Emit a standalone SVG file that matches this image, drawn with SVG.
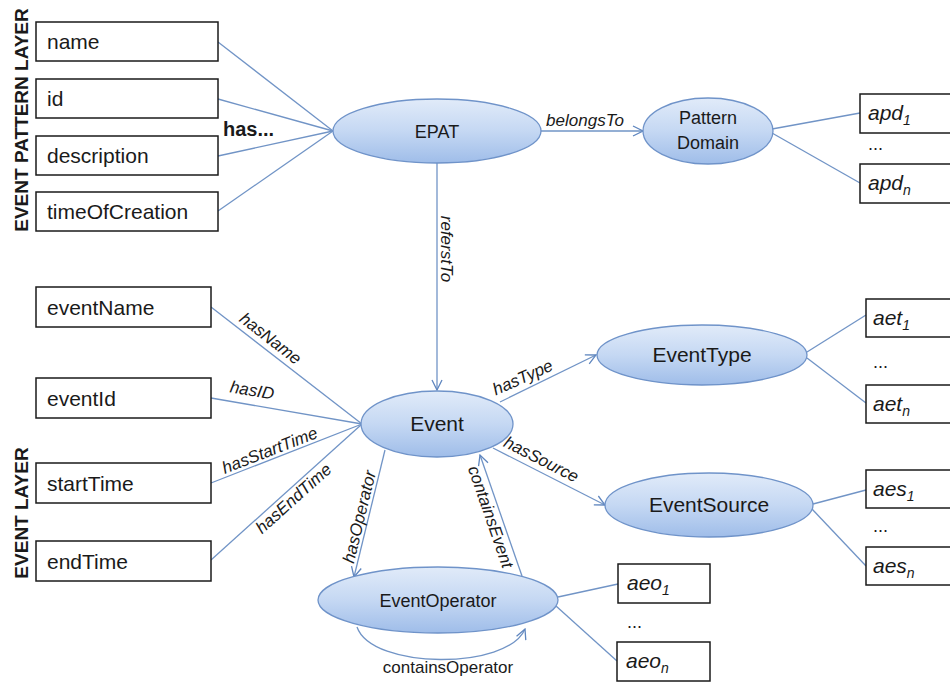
<svg xmlns="http://www.w3.org/2000/svg" width="950" height="682" viewBox="0 0 950 682">
  <defs>
    <linearGradient id="nodeFill" x1="0" y1="0" x2="0" y2="1">
      <stop offset="0" stop-color="#e1ebf9"/>
      <stop offset="0.5" stop-color="#c5d8f3"/>
      <stop offset="1" stop-color="#9fbde9"/>
    </linearGradient>
    <marker id="arrow" viewBox="0 0 12 12" refX="11" refY="6" markerWidth="12" markerHeight="12" markerUnits="userSpaceOnUse" orient="auto">
      <path d="M1,1 L11,6 L1,11" fill="none" stroke="#5f86bf" stroke-width="1.3"/>
    </marker>
    <style>
      .box { fill: #ffffff; stroke: #1a1a1a; stroke-width: 1.5; }
      .cls { fill: url(#nodeFill); stroke: #6f93c9; stroke-width: 1.3; }
      .link { fill: none; stroke: #7194c6; stroke-width: 1.3; }
      .arr { marker-end: url(#arrow); }
      .txt { font-family: "Liberation Sans", Arial, sans-serif; fill: #1a1a1a; }
      .lbl { font-size: 21px; }
      .val { font-size: 21px; font-style: italic; }
      .sub { font-size: 14px; }
      .node { font-size: 18px; text-anchor: middle; }
      .big { font-size: 21px; text-anchor: middle; }
      .rel { font-size: 17px; font-style: italic; text-anchor: middle; }
      .layer { font-size: 19px; font-weight: bold; text-anchor: middle; }
      .dots { font-size: 18px; }
    </style>
  </defs>

  <!-- layer captions -->
  <text class="txt layer" transform="translate(28,120) rotate(-90)">EVENT PATTERN LAYER</text>
  <text class="txt layer" transform="translate(28,513) rotate(-90)">EVENT LAYER</text>

  <!-- connectors -->
  <g id="connectors">
    <line class="link" x1="218" y1="42" x2="333" y2="131"/>
    <line class="link" x1="218" y1="99" x2="333" y2="131"/>
    <line class="link" x1="218" y1="156" x2="333" y2="131"/>
    <line class="link" x1="218" y1="211" x2="333" y2="131"/>
    <line class="link arr" x1="541" y1="131" x2="643" y2="131"/>
    <line class="link" x1="772" y1="129" x2="860" y2="113"/>
    <line class="link" x1="772" y1="133" x2="860" y2="183"/>
    <line class="link arr" x1="437" y1="163" x2="437" y2="390"/>
    <line class="link" x1="211" y1="307" x2="362" y2="424"/>
    <line class="link" x1="211" y1="398" x2="362" y2="424"/>
    <line class="link" x1="211" y1="483" x2="362" y2="424"/>
    <line class="link" x1="211" y1="560" x2="362" y2="424"/>
    <line class="link arr" x1="500" y1="402" x2="596" y2="355"/>
    <line class="link arr" x1="493" y1="448" x2="605" y2="505"/>
    <line class="link" x1="807" y1="352" x2="866" y2="315"/>
    <line class="link" x1="807" y1="358" x2="866" y2="403"/>
    <line class="link" x1="813" y1="504" x2="866" y2="490"/>
    <line class="link" x1="812" y1="509" x2="866" y2="566"/>
    <line class="link arr" x1="385" y1="450" x2="354" y2="577"/>
    <line class="link arr" x1="522" y1="576" x2="480" y2="455"/>
    <path class="link arr" d="M357,627 C372,670 508,670 525,629"/>
    <line class="link" x1="558" y1="597" x2="618" y2="584"/>
    <line class="link" x1="556" y1="606" x2="617" y2="661"/>

    <!-- relation labels -->
    <text class="txt" x="223" y="136" font-size="20" font-weight="bold">has...</text>
    <text class="txt rel" x="585" y="126">belongsTo</text>
    <text class="txt rel" transform="translate(446,249) rotate(90)" y="5">referstTo</text>
    <text class="txt rel" transform="translate(270,339) rotate(37.8)" y="5">hasName</text>
    <text class="txt rel" transform="translate(252,391) rotate(9.8)" y="5">hasID</text>
    <text class="txt rel" transform="translate(270,451) rotate(-21.3)" y="5">hasStartTime</text>
    <text class="txt rel" transform="translate(294,499) rotate(-42)" y="5">hasEndTime</text>
    <text class="txt rel" transform="translate(523,378) rotate(-24)" y="5">hasType</text>
    <text class="txt rel" transform="translate(541,460) rotate(27)" y="5">hasSource</text>
    <text class="txt rel" transform="translate(360,517) rotate(-76.3)" y="5">hasOperator</text>
    <text class="txt rel" transform="translate(490,517) rotate(70.9)" y="5">containsEvent</text>
    <text class="txt" x="448" y="673" font-size="17" text-anchor="middle">containsOperator</text>
  </g>

  <!-- event pattern layer attributes -->
  <g id="name"><rect class="box" x="36" y="22" width="182" height="39"/><text class="txt lbl" x="47" y="49">name</text></g>
  <g id="id"><rect class="box" x="36" y="79" width="182" height="39"/><text class="txt lbl" x="47" y="106">id</text></g>
  <g id="description"><rect class="box" x="36" y="136" width="182" height="39"/><text class="txt lbl" x="47" y="163">description</text></g>
  <g id="timeOfCreation"><rect class="box" x="36" y="192" width="182" height="39"/><text class="txt lbl" x="47" y="219">timeOfCreation</text></g>

  <!-- classes -->
  <g id="EPAT"><ellipse class="cls" cx="437" cy="131" rx="104" ry="32"/><text class="txt node" x="437" y="138">EPAT</text></g>
  <g id="PatternDomain"><ellipse class="cls" cx="708" cy="131" rx="65" ry="33"/><text class="txt node" x="708" y="124">Pattern</text><text class="txt node" x="708" y="149">Domain</text></g>
  <g id="Event"><ellipse class="cls" cx="437" cy="424" rx="76" ry="33"/><text class="txt big" x="437" y="431">Event</text></g>
  <g id="EventType"><ellipse class="cls" cx="702" cy="355" rx="105" ry="30"/><text class="txt big" x="702" y="362">EventType</text></g>
  <g id="EventSource"><ellipse class="cls" cx="709" cy="505" rx="104" ry="32"/><text class="txt big" x="709" y="512">EventSource</text></g>
  <g id="EventOperator"><ellipse class="cls" cx="438" cy="600" rx="120" ry="33"/><text class="txt node" x="438" y="607" font-size="19">EventOperator</text></g>

  <!-- event layer attributes -->
  <g id="eventName"><rect class="box" x="36" y="287" width="175" height="40"/><text class="txt lbl" x="47" y="315">eventName</text></g>
  <g id="eventId"><rect class="box" x="36" y="378" width="175" height="40"/><text class="txt lbl" x="47" y="406">eventId</text></g>
  <g id="startTime"><rect class="box" x="36" y="463" width="175" height="40"/><text class="txt lbl" x="47" y="491">startTime</text></g>
  <g id="endTime"><rect class="box" x="36" y="541" width="175" height="40"/><text class="txt lbl" x="47" y="569">endTime</text></g>

  <!-- individuals -->
  <g id="apd1"><rect class="box" x="860" y="94" width="100" height="39"/><text class="txt val" x="868" y="120">apd<tspan class="sub" dy="5">1</tspan></text></g>
  <text class="txt dots" x="868" y="150">...</text>
  <g id="apdn"><rect class="box" x="860" y="164" width="100" height="39"/><text class="txt val" x="868" y="190">apd<tspan class="sub" dy="5">n</tspan></text></g>

  <g id="aet1"><rect class="box" x="866" y="299" width="100" height="38"/><text class="txt val" x="873" y="325">aet<tspan class="sub" dy="5">1</tspan></text></g>
  <text class="txt dots" x="873" y="368">...</text>
  <g id="aetn"><rect class="box" x="866" y="385" width="100" height="38"/><text class="txt val" x="873" y="411">aet<tspan class="sub" dy="5">n</tspan></text></g>

  <g id="aes1"><rect class="box" x="866" y="470" width="100" height="38"/><text class="txt val" x="873" y="496">aes<tspan class="sub" dy="5">1</tspan></text></g>
  <text class="txt dots" x="873" y="532">...</text>
  <g id="aesn"><rect class="box" x="866" y="547" width="100" height="38"/><text class="txt val" x="873" y="573">aes<tspan class="sub" dy="5">n</tspan></text></g>

  <g id="aeo1"><rect class="box" x="618" y="564" width="92" height="39"/><text class="txt val" x="627" y="590">aeo<tspan class="sub" dy="5">1</tspan></text></g>
  <text class="txt dots" x="627" y="628">...</text>
  <g id="aeon"><rect class="box" x="617" y="642" width="93" height="39"/><text class="txt val" x="626" y="668">aeo<tspan class="sub" dy="5">n</tspan></text></g>
</svg>
